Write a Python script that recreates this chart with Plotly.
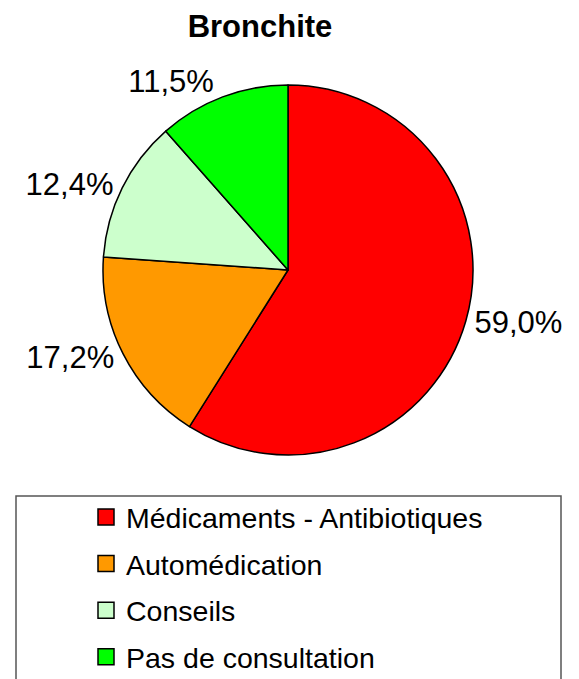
import plotly.graph_objects as go

title = "Bronchite"
categories = ["Médicaments - Antibiotiques", "Automédication", "Conseils", "Pas de consultation"]
values = [59.0, 17.2, 12.4, 11.5]
colors = ["#FF0000", "#FF9900", "#CCFFCC", "#00FF00"]
labels_txt = [f"{v:.1f}".replace(".", ",") + "%" for v in values]

W, H = 579, 679
FONT = "Liberation Sans, Arial, sans-serif"

cx, cy, r = 288, 270, 185

fig = go.Figure()
fig.add_trace(go.Pie(
    labels=categories,
    values=values,
    text=labels_txt,
    textinfo="text",
    textposition="outside",
    outsidetextfont=dict(family=FONT, size=31, color="black"),
    sort=False,
    direction="clockwise",
    rotation=0,
    marker=dict(colors=colors, line=dict(color="black", width=1.5)),
    showlegend=False,
    hoverinfo="label+percent",
    domain=dict(x=[(cx - r) / W, (cx + r) / W], y=[(H - cy - r) / H, (H - cy + r) / H]),
))

# legend-only entries (their single point lies outside the hidden axes' range)
for i, (cat, col) in enumerate(zip(categories, colors)):
    fig.add_trace(go.Scatter(
        x=[0], y=[0], mode="markers", name=cat,
        legendgroup=f"g{i}",
        marker=dict(symbol="square", size=16, color=col, line=dict(color="black", width=1.5)),
        hoverinfo="skip", cliponaxis=True,
    ))

fig.add_shape(type="rect", xref="paper", yref="paper",
              x0=16 / W, x1=561 / W, y0=-0.05, y1=(H - 496) / H,
              line=dict(color="#555555", width=1.5), fillcolor="rgba(0,0,0,0)")

fig.update_layout(
    width=W, height=H,
    margin=dict(l=0, r=0, t=0, b=0, autoexpand=False),
    paper_bgcolor="white", plot_bgcolor="rgba(0,0,0,0)",
    font=dict(family=FONT, color="black"),
    title=dict(text=f"<b>{title}</b>", x=260 / W, xanchor="center",
               y=1 - 26 / H, yref="paper", yanchor="middle",
               font=dict(family=FONT, size=31, color="black")),
    xaxis=dict(visible=False, range=[1, 2], fixedrange=True),
    yaxis=dict(visible=False, range=[1, 2], fixedrange=True),
    legend=dict(x=86 / W, xanchor="left", y=1 - 492 / H, yanchor="top",
                font=dict(family=FONT, size=28.5, color="black"),
                tracegroupgap=6.5, itemsizing="trace",
                bgcolor="rgba(0,0,0,0)", borderwidth=0),
    showlegend=True,
)

fig.write_html("out.html", config={"displayModeBar": False},
               post_script="document.body.style.margin='0';")
